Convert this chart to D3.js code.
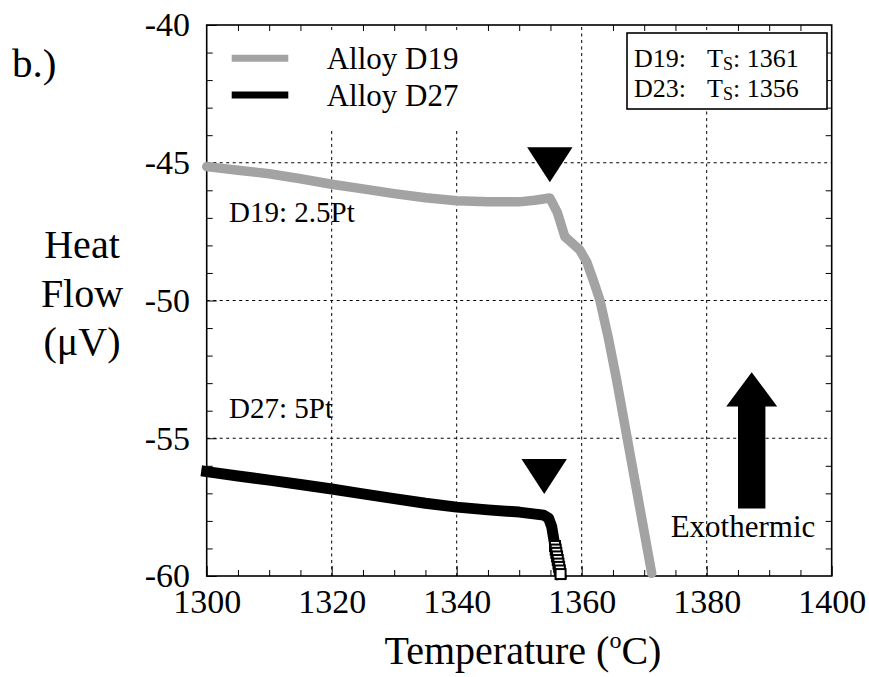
<!DOCTYPE html>
<html>
<head>
<meta charset="utf-8">
<script src="https://cdn.jsdelivr.net/npm/d3@7"></script>
<style>
  html, body { margin: 0; padding: 0; background: #fff; }
  svg { display: block; }
  text { font-family: "Liberation Serif", "Times New Roman", serif; fill: #000; }
</style>
</head>
<body>
<script>
// DTA traces: heat flow (µV) against temperature (°C)
const d19Temp  = [1300, 1305, 1310, 1315, 1320, 1325, 1330, 1335, 1340, 1345, 1350, 1352.5, 1354.9, 1356.1, 1357.3, 1358.5, 1359.7, 1360.8, 1361.9, 1362.9, 1364.3, 1365.6, 1367.0, 1368.4, 1369.8, 1371.2];
const d19Flow  = [-45.14, -45.27, -45.40, -45.58, -45.78, -45.95, -46.12, -46.27, -46.38, -46.42, -46.42, -46.36, -46.28, -46.80, -47.68, -47.92, -48.17, -48.60, -49.30, -49.98, -51.40, -52.90, -54.65, -56.40, -58.15, -59.90];

const d27Temp  = [1300, 1305, 1310, 1315, 1320, 1325, 1330, 1335, 1340, 1345, 1350, 1353.9, 1354.7, 1355.2, 1355.7];
const d27Flow  = [-56.21, -56.37, -56.52, -56.68, -56.84, -57.02, -57.19, -57.36, -57.50, -57.60, -57.68, -57.79, -57.90, -58.21, -58.90];
// last D27 readings, shown as open squares
const d27TailTemp = [1355.73, 1355.84, 1355.94, 1356.06, 1356.17, 1356.28, 1356.39, 1356.50, 1356.62];
const d27TailFlow = [-58.91, -59.04, -59.16, -59.29, -59.42, -59.55, -59.67, -59.80, -59.93];

// onset markers (apex of each triangle)
const onsetTemp = [1354.9, 1354.0];
const onsetFlow = [-45.71, -57.02];

// solidus table
const boxAlloys  = ["D19:", "D23:"];
const boxSolidus = [1361, 1356];

const seriesNames = ["Alloy D19", "Alloy D27"];
const xTicks = [1300, 1320, 1340, 1360, 1380, 1400];
const yTicks = [-60, -55, -50, -45, -40];

const W = 869, H = 677;
const x = d3.scaleLinear().domain([1300, 1400]).range([206.7, 831.7]);
const y = d3.scaleLinear().domain([-60, -40]).range([576, 25]);
const [x0, x1] = x.range();
const [y0, y1] = y.range();
const plain = d => String(d);   // hyphen-minus, as in the printed figure

const svg = d3.select("body").append("svg").attr("width", W).attr("height", H);

// dotted grid at interior major ticks
const grid = svg.append("g").attr("stroke", "#000").attr("stroke-width", 1).attr("stroke-dasharray", "3,3.5");
grid.selectAll(".gx").data(xTicks.slice(1, -1)).join("line")
  .attr("x1", d => x(d)).attr("x2", d => x(d)).attr("y1", y0).attr("y2", y1);
grid.selectAll(".gy").data(yTicks.slice(1, -1)).join("line")
  .attr("y1", d => y(d)).attr("y2", d => y(d)).attr("x1", x0).attr("x2", x1);

// axes with inward ticks
const xMinor = d3.range(1300, 1401, 5).filter(v => v % 20 !== 0);
const yMinor = d3.range(-60, -39, 1).filter(v => v % 5 !== 0);
function styleAxis(g) {
  g.attr("font-family", null);
  g.select(".domain").remove();
  g.selectAll(".tick line").attr("stroke", "#000").attr("stroke-width", 1);
  g.selectAll("text").attr("font-size", 34);
}
svg.append("g").attr("transform", `translate(0,${y0})`)
  .call(d3.axisBottom(x).tickValues(xTicks).tickSizeInner(-10).tickSizeOuter(0).tickPadding(13).tickFormat(plain))
  .call(styleAxis);
svg.append("g").attr("transform", `translate(0,${y0})`)
  .call(d3.axisBottom(x).tickValues(xMinor).tickSizeInner(-6).tickSizeOuter(0).tickFormat(""))
  .call(styleAxis);
svg.append("g").attr("transform", `translate(0,${y1})`)
  .call(d3.axisTop(x).tickValues(xMinor).tickSizeInner(-6).tickSizeOuter(0).tickFormat(""))
  .call(styleAxis);
svg.append("g").attr("transform", `translate(${x0},0)`)
  .call(d3.axisLeft(y).tickValues(yTicks).tickSizeInner(-10).tickSizeOuter(0).tickPadding(16.7).tickFormat(plain))
  .call(styleAxis);
svg.append("g").attr("transform", `translate(${x0},0)`)
  .call(d3.axisLeft(y).tickValues(yMinor).tickSizeInner(-6).tickSizeOuter(0).tickFormat(""))
  .call(styleAxis);
svg.append("g").attr("transform", `translate(${x1},0)`)
  .call(d3.axisRight(y).tickValues(yMinor).tickSizeInner(-6).tickSizeOuter(0).tickFormat(""))
  .call(styleAxis);

// legend panel (white, borderless) sits over the grid
svg.append("rect").attr("x", x0 + 10).attr("y", y1 + 8).attr("width", 285).attr("height", 96).attr("fill", "#fff");

// frame
svg.append("rect").attr("x", x0).attr("y", y1).attr("width", x1 - x0).attr("height", y0 - y1)
  .attr("fill", "none").attr("stroke", "#000").attr("stroke-width", 1.6);

// traces
const line = d3.line().x(d => x(d[0])).y(d => y(d[1]));
const d19 = d19Temp.map((t, i) => [t, d19Flow[i]]);
const d27 = d27Temp.map((t, i) => [t, d27Flow[i]]);
const d27Tail = d27TailTemp.map((t, i) => [t, d27TailFlow[i]]);

svg.append("path").datum(d27.concat(d27Tail)).attr("d", line)
  .attr("fill", "none").attr("stroke", "#000").attr("stroke-width", 11)
  .attr("stroke-linecap", "square").attr("stroke-linejoin", "round");
svg.append("g").selectAll("rect").data(d27Tail).join("rect")
  .attr("x", d => x(d[0]) - 5).attr("y", d => y(d[1]) - 5)
  .attr("width", 10).attr("height", 10)
  .attr("fill", "#fff").attr("stroke", "#000").attr("stroke-width", 2);

svg.append("path").datum(d19).attr("d", line)
  .attr("fill", "none").attr("stroke", "#a3a3a3").attr("stroke-width", 9.5)
  .attr("stroke-linecap", "round").attr("stroke-linejoin", "round");

// onset triangles
svg.append("g").selectAll("path").data(onsetTemp.map((t, i) => [t, onsetFlow[i]])).join("path")
  .attr("d", d => {
    const px = x(d[0]), py = y(d[1]);
    return `M${px},${py}L${px - 22.7},${py - 35}L${px + 22.7},${py - 35}Z`;
  })
  .attr("fill", "#000");

// legend
const legend = svg.append("g");
const legendColors = ["#a3a3a3", "#000"];
const legendY = [58.3, 95];
seriesNames.forEach((name, i) => {
  legend.append("line").attr("x1", 231.7).attr("x2", 288.3).attr("y1", legendY[i]).attr("y2", legendY[i])
    .attr("stroke", legendColors[i]).attr("stroke-width", 7);
  legend.append("text").attr("x", 326.7).attr("y", legendY[i] + 11).attr("font-size", 31).text(name);
});

// solidus box
const box = svg.append("g");
box.append("rect").attr("x", 627).attr("y", 33).attr("width", 200).attr("height", 76)
  .attr("fill", "#fff").attr("stroke", "#000").attr("stroke-width", 1.6);
boxAlloys.forEach((a, i) => {
  const by = 67 + i * 30;
  box.append("text").attr("x", 634).attr("y", by).attr("font-size", 26).text(a);
  const t = box.append("text").attr("x", 707).attr("y", by).attr("font-size", 26);
  t.append("tspan").text("T");
  t.append("tspan").attr("font-size", 18).attr("dy", 3).text("S");
  t.append("tspan").attr("dy", -3).text(": " + boxSolidus[i]);
});

// curve annotations
svg.append("text").attr("x", 229).attr("y", 222).attr("font-size", 29).text("D19: 2.5Pt");
svg.append("text").attr("x", 229).attr("y", 418).attr("font-size", 29).text("D27: 5Pt");

// exothermic direction arrow
const arrowT = 1387.2, arrowTop = -52.6, arrowHeadBase = -53.85, arrowBottom = -57.55;
const hx = 25.5, sx = 13.7;
const ax = x(arrowT);
svg.append("path")
  .attr("d", `M${ax},${y(arrowTop)}L${ax + hx},${y(arrowHeadBase)}L${ax + sx},${y(arrowHeadBase)}L${ax + sx},${y(arrowBottom)}` +
             `L${ax - sx},${y(arrowBottom)}L${ax - sx},${y(arrowHeadBase)}L${ax - hx},${y(arrowHeadBase)}Z`)
  .attr("fill", "#000");
svg.append("text").attr("x", 743).attr("y", 537).attr("text-anchor", "middle").attr("font-size", 31).text("Exothermic");

// axis titles and panel label
svg.append("text").attr("x", 12).attr("y", 77).attr("font-size", 41).text("b.)");
const yt = svg.append("text").attr("text-anchor", "middle").attr("font-size", 40);
["Heat", "Flow", "(\u03bcV)"].forEach((s, i) => {
  yt.append("tspan").attr("x", 82).attr("y", 258 + i * 48.5).text(s);
});
const xt = svg.append("text").attr("x", 523).attr("y", 664).attr("text-anchor", "middle").attr("font-size", 40);
xt.append("tspan").text("Temperature (");
xt.append("tspan").attr("font-size", 24).attr("dy", -16).text("o");
xt.append("tspan").attr("dy", 16).text("C)");
</script>
</body>
</html>
